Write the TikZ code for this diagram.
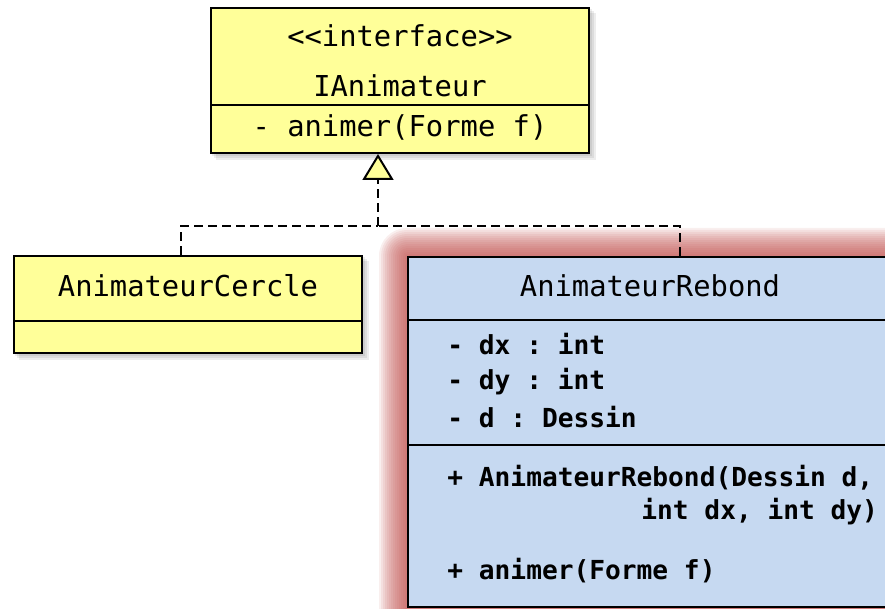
\documentclass[tikz,border=0pt]{standalone}
\usepackage{fontspec}
\setmonofont{DejaVu Sans Mono}
\usepackage{xcolor}
\usetikzlibrary{positioning,arrows.meta,calc,backgrounds}

\definecolor{umlyellow}{RGB}{255,255,153}
\definecolor{umlblue}{RGB}{198,217,241}
\definecolor{glowred}{RGB}{192,80,77}

\tikzset{
  classbox/.style={draw, line width=1pt, inner sep=0pt},
  realize/.style={line width=1.1pt, dash pattern=on 4.5pt off 2.5pt},
  txt/.style={font=\fontsize{14.4}{17}\selectfont\ttfamily, inner sep=0pt, anchor=base},
  btxt/.style={font=\fontsize{13.1}{16}\selectfont\ttfamily\bfseries, inner sep=0pt, anchor=base west}
}

\begin{document}
\begin{tikzpicture}[x=0.5pt, y=-0.5pt]
  \useasboundingbox (0,0) rectangle (885,609);

  % Interface
  \node[classbox, fill=umlyellow, minimum width=189pt, minimum height=72.5pt] (iface) at (400,80.5) {};
  \node[txt] (stereo) at (400,47) {<{}<interface>{}>};
  \node[txt] (ifname) at (400,97) {IAnimateur};
  \draw[line width=0.8pt] (iface.west |- 0,105) -- (iface.east |- 0,105);
  \node[txt] (ifop) at (400,137) {- animer(Forme f)};

  % AnimateurCercle
  \node[classbox, fill=umlyellow, minimum width=174pt, minimum height=48.5pt] (cercle) at (188,304.5) {};
  \node[txt] (cname) at (188,297) {AnimateurCercle};
  \draw[line width=0.8pt] (cercle.west |- 0,321) -- (cercle.east |- 0,321);

  % AnimateurRebond
  \node[classbox, fill=umlblue, minimum width=273pt, minimum height=175pt] (rebond) at (681,432) {};
  \node[txt] (rname) at (650,297) {AnimateurRebond};
  \draw[line width=0.8pt] (rebond.west |- 0,320) -- (rebond.east |- 0,320);
  \node[btxt] (a1) at (447,355) {- dx : int};
  \node[btxt] (a2) at (447,390) {- dy : int};
  \node[btxt] (a3) at (447,428) {- d : Dessin};
  \draw[line width=0.8pt] (rebond.west |- 0,445) -- (rebond.east |- 0,445);
  \node[btxt] (m1) at (447,487) {+ AnimateurRebond(Dessin d,};
  \node[btxt] (m1b) at (641,520) {int dx, int dy)};
  \node[btxt] (m2) at (447,580) {+ animer(Forme f)};

  % glow and shadows
  \begin{scope}[on background layer]
    \foreach \g [evaluate=\g as \rc using 0.5*\g] in {2,4,...,28}
      \fill[glowred, opacity=0.095, rounded corners=\rc pt]
        ($(rebond.north west)+(-\g,-\g)$) rectangle ($(rebond.south east)+(\g,\g)$);
    \foreach \s in {2,4,6}{
      \fill[black, opacity=0.07] ($(iface.south west)+(\s,\s)$) rectangle ($(iface.north east)+(\s,\s)$);
      \fill[black, opacity=0.07] ($(cercle.south west)+(\s,\s)$) rectangle ($(cercle.north east)+(\s,\s)$);
    }
  \end{scope}

  % realization
  \coordinate (join) at (378,226);
  \draw[realize] ($(cercle.north)+(-7,0)$) |- (join);
  \draw[realize] ($(rebond.north)+(-1,0)$) |- (join);
  \draw[realize, -{Triangle[length=13pt, width=15.5pt, fill=umlyellow, line width=1pt]}] (join) -- (join |- iface.south);
\end{tikzpicture}
\end{document}
